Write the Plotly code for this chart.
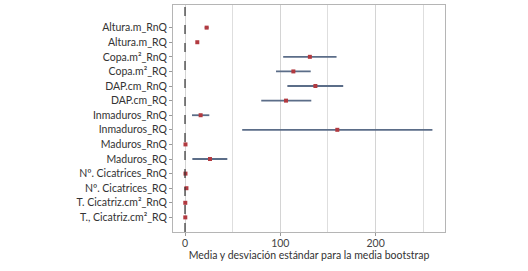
import plotly.graph_objects as go

categories = [
    "Altura.m_RnQ", "Altura.m_RQ", "Copa.m²_RnQ", "Copa.m²_RQ",
    "DAP.cm_RnQ", "DAP.cm_RQ", "Inmaduros_RnQ", "Inmaduros_RQ",
    "Maduros_RnQ", "Maduros_RQ", "Nº. Cicatrices_RnQ", "Nº. Cicatrices_RQ",
    "T. Cicatriz.cm²_RnQ", "T., Cicatriz.cm²_RQ",
]
means = [22.7, 12.9, 131.0, 113.7, 136.8, 106.0, 16.4, 159.8, 0.5, 26.2, 0.5, 1.5, 0.3, 0.3]
lower = [20.7, 11.9, 103.0, 95.5, 107.4, 80.0, 7.3, 60.0, 0.2, 7.7, 0.2, 0.8, 0.1, 0.1]
upper = [24.7, 13.9, 159.0, 131.9, 166.0, 132.5, 25.5, 259.6, 0.8, 44.4, 0.8, 2.2, 0.5, 0.5]

err_plus = [u - m for u, m in zip(upper, means)]
err_minus = [m - l for m, l in zip(means, lower)]

fig = go.Figure()
fig.add_trace(go.Scatter(
    x=means, y=categories, mode="markers",
    marker=dict(symbol="square", size=4, color="#b23a40"),
    error_x=dict(type="data", array=err_plus, arrayminus=err_minus,
                 color="#5b6d88", thickness=1.8, width=0),
    showlegend=False,
))
fig.add_shape(type="line", xref="x", yref="paper", x0=0, x1=0, y0=0, y1=1,
              line=dict(color="#333333", width=1.2, dash="dash"))

fig.update_layout(
    width=528, height=271,
    margin=dict(l=173, r=83, t=5, b=39, autoexpand=False),
    paper_bgcolor="white", plot_bgcolor="white",
    font=dict(family="Lato", size=10.5, color="#333333"),
)
fig.update_xaxes(
    automargin=False,
    range=[-12.6, 272.8], tickvals=[0, 100, 200], ticks="outside", ticklen=3,
    tickcolor="#999999", showgrid=True, gridcolor="#d4d4d4", gridwidth=1,
    minor=dict(tickvals=[50, 150, 250], showgrid=True, gridcolor="#dedede", gridwidth=1),
    showline=True, linecolor="#b5b5b5", mirror=True, zeroline=False,
    ticklabelstandoff=-2,
    title=dict(text="Media y desviación estándar para la media bootstrap",
               font=dict(size=10.5, color="#333333"), standoff=0),
    tickfont=dict(size=10.5, color="#444444"),
)
fig.update_yaxes(
    automargin=False,
    type="category", categoryorder="array", categoryarray=categories,
    range=[14.0, -1.55], ticks="outside", ticklen=3, tickcolor="#999999",
    showgrid=False, showline=True, linecolor="#b5b5b5", mirror=True,
    tickfont=dict(size=10.5, color="#333333"),
)
fig.write_html("out.html", config={"displayModeBar": False},
               post_script="document.body.style.margin='0px';document.body.style.padding='0px';")
